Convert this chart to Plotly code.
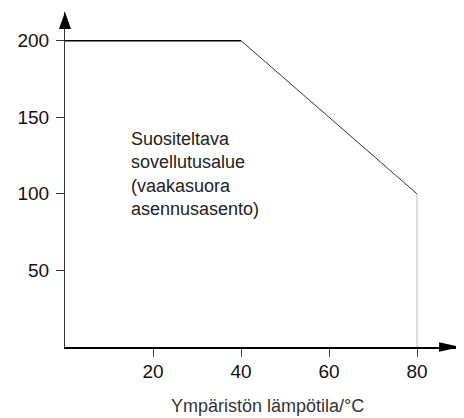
import plotly.graph_objects as go

# Data
temperature = [0, 40, 80]          # ambient temperature / °C
capacity = [200, 200, 100]         # permitted value
limit_x = [80, 80]
limit_y = [100, 0]
x_ticks = [20, 40, 60, 80]
y_ticks = [50, 100, 150, 200]
region_label = "Suositeltava<br>sovellutusalue<br>(vaakasuora<br>asennusasento)"
x_title = "Ympäristön lämpötila/°C"

FONT = "Liberation Sans, Arial, sans-serif"

fig = go.Figure()
fig.add_trace(go.Scatter(x=temperature[0:2], y=capacity[0:2], mode="lines",
                         line=dict(color="#000000", width=1.5), showlegend=False,
                         hoverinfo="skip"))
fig.add_trace(go.Scatter(x=temperature[1:3], y=capacity[1:3], mode="lines",
                         line=dict(color="#333333", width=1), showlegend=False,
                         hoverinfo="skip"))
fig.add_trace(go.Scatter(x=limit_x, y=limit_y, mode="lines",
                         line=dict(color="#bbbbbb", width=1), showlegend=False,
                         hoverinfo="skip"))

fig.add_annotation(x=14.6, y=112.8, xref="x", yref="y", text=region_label,
                   showarrow=False, xanchor="left", yanchor="middle", align="left",
                   font=dict(family=FONT, size=18, color="#222222"))

fig.add_annotation(x=0.513, y=-0.176, xref="paper", yref="paper", text=x_title,
                   showarrow=False, xanchor="center", yanchor="middle",
                   font=dict(family=FONT, size=18, color="#333333"))

# arrow heads (paper coords)
fig.add_shape(type="path", xref="paper", yref="paper",
              path="M 0.947,0.014 L 1,0 L 0.947,-0.014 Z",
              fillcolor="#000000", line=dict(color="#000000", width=0))
fig.add_shape(type="path", xref="paper", yref="paper",
              path="M -0.0152,0.949 L 0,1 L 0.0152,0.949 Z",
              fillcolor="#000000", line=dict(color="#000000", width=0))

fig.update_layout(
    width=452, height=410,
    margin=dict(l=57, r=0, t=4, b=71, autoexpand=False),
    paper_bgcolor="white", plot_bgcolor="white",
    font=dict(family=FONT, size=19, color="#111111"),
    xaxis=dict(range=[0, 89.77], tickvals=x_ticks, ticks="outside", ticklen=8,
               tickcolor="#444444", showline=True, linecolor="#000000", linewidth=2,
               showgrid=False, zeroline=False, fixedrange=True, automargin=False,
               ticklabelstandoff=-2,
               tickfont=dict(family=FONT, size=19, color="#111111")),
    yaxis=dict(range=[0, 218.7], tickvals=y_ticks, ticks="outside", ticklen=8,
               tickcolor="#333333", showline=True, linecolor="#333333", linewidth=1,
               showgrid=False, zeroline=False, fixedrange=True, automargin=False,
               ticklabelstandoff=3,
               tickfont=dict(family=FONT, size=19, color="#111111")),
)

fig.write_html("out.html")
